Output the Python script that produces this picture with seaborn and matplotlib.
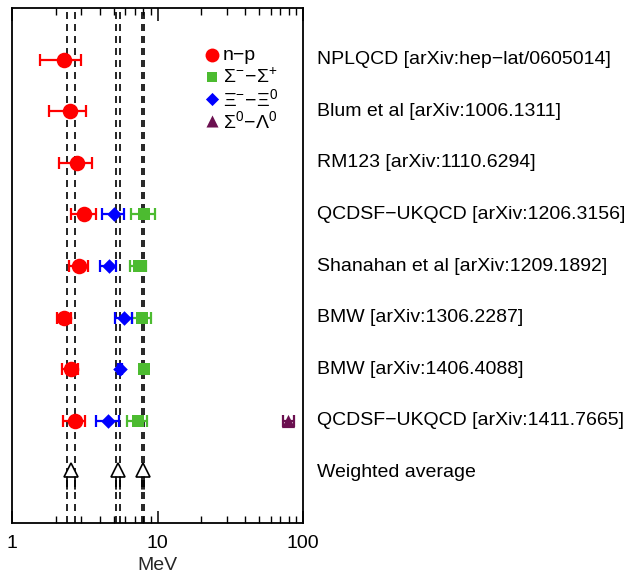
import numpy as np
import pandas as pd
import matplotlib
matplotlib.use("Agg")
import matplotlib.pyplot as plt
import matplotlib.transforms as mtransforms
import seaborn as sns

sns.set_theme(style="white")
plt.rcParams['font.family'] = ['Liberation Sans', 'DejaVu Sans']
plt.rcParams['mathtext.fontset'] = 'custom'
plt.rcParams['mathtext.rm'] = 'Liberation Sans'
plt.rcParams['mathtext.it'] = 'Liberation Sans'

# ---------------- data ----------------
collabs = ["NPLQCD [arXiv:hep\u2212lat/0605014]",
           "Blum et al [arXiv:1006.1311]",
           "RM123 [arXiv:1110.6294]",
           "QCDSF\u2212UKQCD [arXiv:1206.3156]",
           "Shanahan et al [arXiv:1209.1892]",
           "BMW [arXiv:1306.2287]",
           "BMW [arXiv:1406.4088]",
           "QCDSF\u2212UKQCD [arXiv:1411.7665]",
           "Weighted average"]

np_val = [2.28, 2.52, 2.81, 3.14, 2.90, 2.28, 2.53, 2.70]
np_err = [0.72, 0.72, 0.71, 0.61, 0.42, 0.25, 0.32, 0.45]
np_rows = [0, 1, 2, 3, 4, 5, 6, 7]

sig_val = [8.10, 7.45, 7.85, 8.08, 7.30]
sig_err = [1.50, 0.95, 1.20, 0.20, 1.15]
sig_rows = [3, 4, 5, 6, 7]

xi_val = [5.00, 4.62, 5.90, 5.55, 4.60]
xi_err = [0.85, 0.60, 0.80, 0.16, 0.80]
xi_rows = [3, 4, 5, 6, 7]

sl_val = [79.4]
sl_err = [7.0]
sl_rows = [7]

# weighted averages (band centre, half width)
avg_val = [2.545, 5.37, 8.01]
avg_err = [0.165, 0.18, 0.13]
avg_row = 8

series_labels = ["n\u2212p", r"$\Sigma^{-}\!-\!\Sigma^{+}$", r"$\Xi^{-}\!-\!\Xi^{0}$", r"$\Sigma^{0}\!-\!\Lambda^{0}$"]
colors = ["#ff0000", "#4cbb30", "#0000ff", "#6b1050"]
markers = ["o", "s", "D", "^"]
msizes = [125, 80, 55, 90]

frames = []
for lab, v, e, r in zip(series_labels,
                        [np_val, sig_val, xi_val, sl_val],
                        [np_err, sig_err, xi_err, sl_err],
                        [np_rows, sig_rows, xi_rows, sl_rows]):
    frames.append(pd.DataFrame({"series": lab, "value": v, "err": e, "row": r}))
df = pd.concat(frames, ignore_index=True)

W, H = 627, 573
fig = plt.figure(figsize=(W / 100, H / 100), dpi=100)
ax = fig.add_axes([12 / W, 1 - 523 / H, (303 - 12) / W, (523 - 8) / H])
ax.set_xscale("log")
ax.set_xlim(1, 100)
ax.set_ylim(8.98, -1.0)

# bands
for c, e in zip(avg_val, avg_err):
    for xv in (c - e, c + e):
        ax.axvline(xv, color="black", lw=1.2, ls=(0, (4.2, 3.0)), zorder=1)

# error bars and markers
for lab, col, mk, ms in zip(series_labels, colors, markers, msizes):
    sub = df[df.series == lab]
    ax.errorbar(sub["value"], sub["row"], xerr=sub["err"], fmt="none",
                ecolor=col, elinewidth=1.6, capsize=4, capthick=1.6, zorder=3)
    sns.scatterplot(data=sub, x="value", y="row", ax=ax, color=col, marker=mk,
                    s=ms, edgecolor=col, linewidth=0, zorder=4, legend=False)

# weighted average arrows
for c, e in zip(avg_val, avg_err):
    ax.plot([c], [avg_row - 0.05], marker="^", ms=9.5, mfc="white", mec="black",
            mew=1.2, ls="none", zorder=5)
    for xv in (c - e, c + e):
        ax.plot([xv, xv], [avg_row + 0.08, avg_row + 0.33], color="black", lw=1.2, zorder=5)

# labels to the right
trans = mtransforms.blended_transform_factory(fig.transFigure, ax.transData)
for i, t in enumerate(collabs):
    ax.text(317 / W, i, t, transform=trans, fontsize=14, va="center", ha="left",
            color="black", clip_on=False)

# legend (drawn manually for even row spacing)
leg_y = [55, 77, 99, 121]
leg_sizes = [100, 60, 45, 75]
for lab, col, mk, ms, yp in zip(series_labels, colors, markers, leg_sizes, leg_y):
    ax.scatter([212 / W], [1 - yp / H], transform=fig.transFigure, marker=mk,
               s=ms, color=col, linewidth=0, clip_on=False, zorder=6)
    ax.text(223 / W, 1 - yp / H, lab, transform=fig.transFigure, fontsize=14,
            va="center", ha="left", color="black")

# axes styling
ax.set_yticks([])
ax.tick_params(axis="x", which="both", direction="in", top=True, bottom=True,
               labelsize=14, pad=9, colors="black")
ax.tick_params(axis="x", which="major", length=9, width=1.1)
ax.tick_params(axis="x", which="minor", length=5, width=1.0)
ax.set_xticks([1, 10, 100])
ax.set_xticklabels(["1", "10", "100"])
ax.set_xlabel("MeV", fontsize=14, labelpad=3)
ax.set_ylabel("")
for s in ax.spines.values():
    s.set_color("black")
    s.set_linewidth(1.3)

fig.savefig("out.png", dpi=100)
